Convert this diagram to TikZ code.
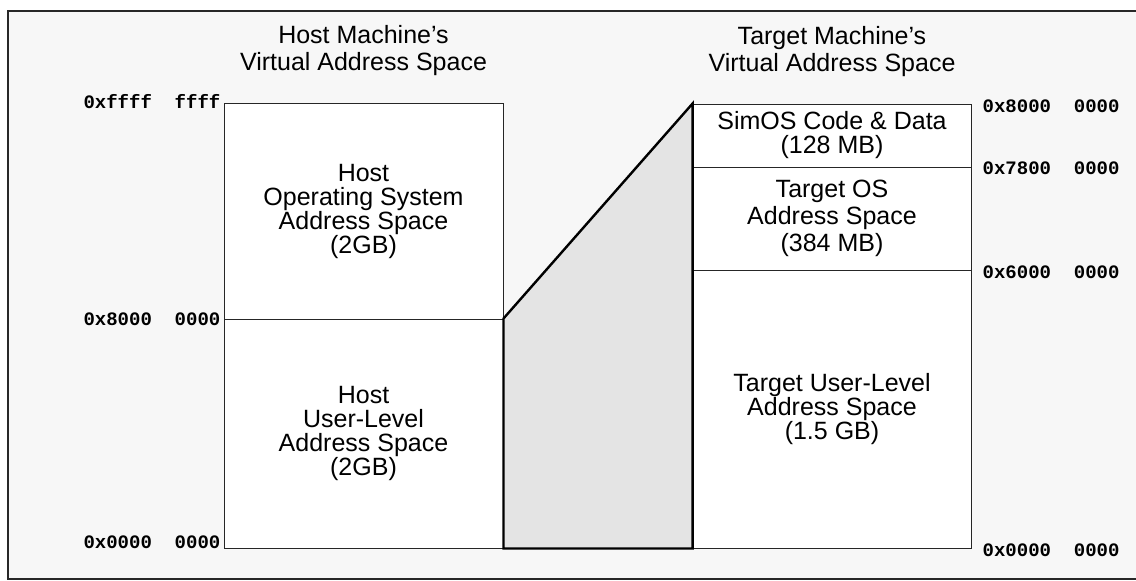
\documentclass[tikz,border=0pt]{standalone}
\usepackage{fontspec}
\setmainfont{Liberation Sans}
\newfontfamily\addrfont{Liberation Mono}
\usetikzlibrary{positioning}
\definecolor{framegray}{RGB}{40,40,40}
\definecolor{panelbg}{RGB}{247,247,247}
\definecolor{mapfill}{RGB}{228,228,228}
\tikzset{
    % White address-space region with centred caption (arg = line spacing)
    region/.style={
        draw=black!85, fill=white, line width=0.9pt,
        align=center, inner sep=0pt,
        font=\fontsize{25}{#1}\selectfont
    },
    region/.default=24,
    hostregion/.style={region=#1, minimum width=279pt},
    hostregion/.default=24,
    targetregion/.style={region=#1, minimum width=278pt},
    targetregion/.default=24,
    % Hexadecimal address labels
    addr/.style={
        inner sep=0pt,
        font=\addrfont\bfseries\fontsize{19}{19}\selectfont
    },
    % Column headings
    heading/.style={align=center, font=\fontsize{25}{27}\selectfont},
    % Shaded mapping between the two spaces
    mapping/.style={draw=black, fill=mapfill, line width=2.4pt, line join=miter},
}
\begin{document}
\begin{tikzpicture}[x=1pt,y=-1pt]
      \useasboundingbox (0,0) rectangle (1136,581);
      \clip (0,0) rectangle (1136,581);
      \draw[framegray, line width=2pt, fill=panelbg] (8,11) rectangle (1160,579);
      % host side
      \node[hostregion, minimum height=216pt] (hostos) at (363.5,211)
          {Host\\Operating System\\Address Space\\(2GB)};
      \node[hostregion, minimum height=229pt] (hostusr) at (363.5,433.5)
          {Host\\User-Level\\Address Space\\(2GB)};
      % target side
      \node[targetregion=24, minimum height=63pt] (simos) at (832,135.5)
          {SimOS Code \& Data\\(128 MB)};
      \node[targetregion=27, minimum height=103pt] (tgtos) at (832,218.5)
          {Target OS\\Address Space\\(384 MB)};
      \node[targetregion=24, minimum height=278pt] (tgtusr) at (832,409)
          {Target User-Level\\Address Space\\(1.5 GB)};
      \draw[mapping] (hostusr.north east) -- (simos.north west)
          -- (tgtusr.south west) -- (hostusr.south east) -- cycle;
      % headings
      \node[heading, above=23pt of hostos] (hosthead) {Host Machine's\\Virtual Address Space};
      \node[heading, above=23pt of simos] (tgthead) {Target Machine's\\Virtual Address Space};
      % address labels
      \node[addr, anchor=east] (hosttop) at ([xshift=-3pt,yshift=1pt]hostos.north west) {0xffff\ \ ffff};
      \node[addr, anchor=east] (hostmid) at ([xshift=-3pt]hostos.south west) {0x8000\ \ 0000};
      \node[addr, anchor=east] (hostbot) at ([xshift=-3pt,yshift=6pt]hostusr.south west) {0x0000\ \ 0000};
      \node[addr, anchor=west] (tgttop) at ([xshift=11pt,yshift=-3pt]simos.north east) {0x8000\ \ 0000};
      \node[addr, anchor=west] (tgtsim) at ([xshift=11pt,yshift=-1pt]simos.south east) {0x7800\ \ 0000};
      \node[addr, anchor=west] (tgtos) at ([xshift=11pt,yshift=-2pt]tgtos.south east) {0x6000\ \ 0000};
      \node[addr, anchor=west] (tgtbot) at ([xshift=11pt,yshift=-2pt]tgtusr.south east) {0x0000\ \ 0000};
    \end{tikzpicture}
\end{document}
